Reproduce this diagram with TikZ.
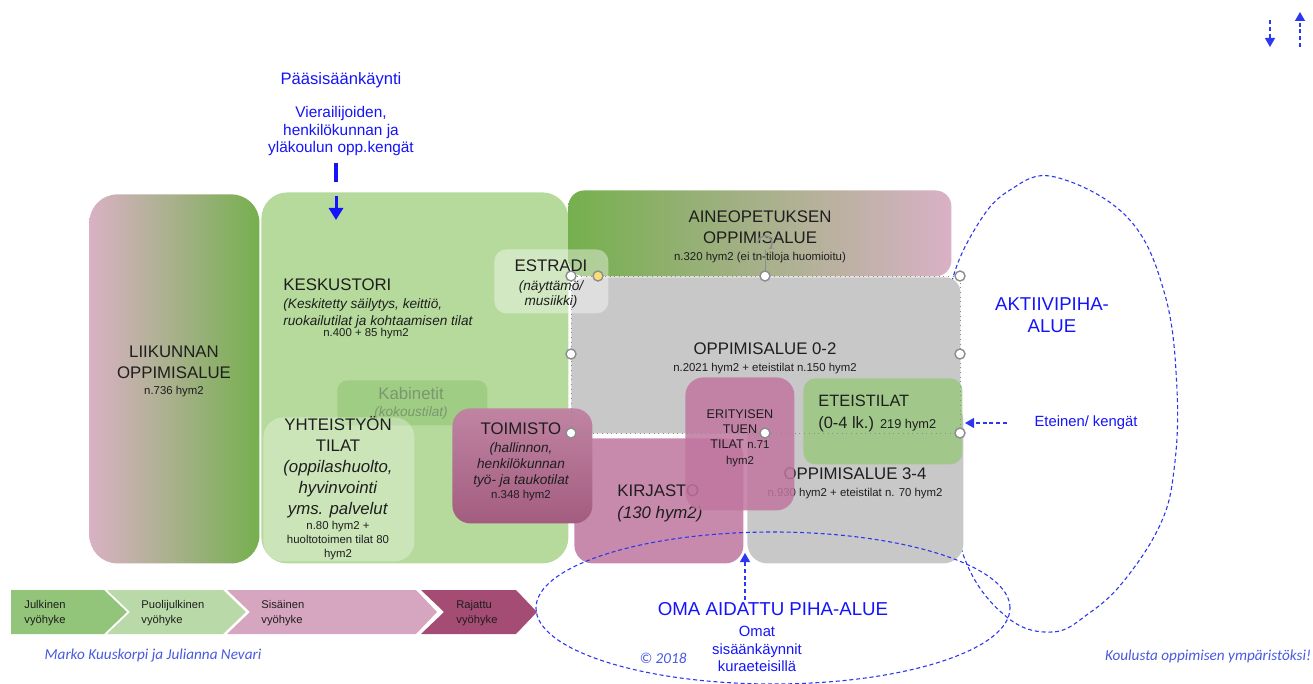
\documentclass[tikz,border=0pt]{standalone}
\usepackage{fontspec}
\setmainfont{Liberation Sans}
\newfontfamily\credfont{Carlito}
\usetikzlibrary{arrows.meta}

\definecolor{gpink}{RGB}{217,177,197}
\definecolor{ggreen}{RGB}{117,176,78}
\definecolor{kgreen}{RGB}{181,218,156}
\definecolor{kabgreen}{RGB}{160,205,132}
\definecolor{kabtext}{RGB}{120,152,110}
\definecolor{zgray}{RGB}{200,200,200}
\definecolor{kirpink}{RGB}{200,138,172}
\definecolor{toitop}{RGB}{192,132,163}
\definecolor{toibot}{RGB}{163,92,127}
\definecolor{eripink}{RGB}{192,118,160}
\definecolor{etgreen}{RGB}{155,200,128}
\definecolor{ink}{RGB}{30,30,30}
\definecolor{pblue}{RGB}{20,20,250}
\definecolor{dblue}{RGB}{45,55,240}
\definecolor{credblue}{RGB}{70,90,225}
\definecolor{chevA}{RGB}{146,196,122}
\definecolor{chevB}{RGB}{185,218,168}
\definecolor{chevC}{RGB}{214,165,192}
\definecolor{chevD}{RGB}{165,76,117}
\definecolor{hgray}{RGB}{140,140,140}
\definecolor{hyellow}{RGB}{250,222,120}

\newcommand{\headf}{\fontsize{8.4}{10.5}\selectfont}
\newcommand{\area}[1]{{\fontsize{5.7}{7}\selectfont #1}}
\newcommand{\descr}[1]{{\fontsize{6.8}{8.5}\selectfont\itshape #1}}

\tikzset{
  zone/.style={inner sep=0pt, anchor=north west},
  txt/.style={inner sep=0pt, align=center, text=ink, font=\headf},
  bluetxt/.style={inner sep=0pt, align=center, text=pblue},
  credit/.style={inner sep=0pt, text=credblue, font=\credfont\itshape\fontsize{7.6}{9}\selectfont},
  chevtxt/.style={inner sep=0pt, align=left, anchor=north west, text=ink, font=\fontsize{5.6}{7.5}\selectfont},
  dashblue/.style={dblue, line width=0.55pt, dash pattern=on 2pt off 1.4pt},
  handle/.style={circle, draw=hgray, fill=white, line width=0.7pt, minimum size=5pt, inner sep=0pt},
}

\begin{document}
\begin{tikzpicture}[x=0.5pt, y=-0.5pt]
  \useasboundingbox (0,0) rectangle (1313,684);

  % aktiivipiha behind the building
  \draw[dashblue] plot[smooth cycle, tension=0.65] coordinates {(1055,177) (1128,218) (1165,295) (1177,390) (1174,470) (1160,525) (1123,582) (1088,614) (1053,632) (1008,618) (966,562) (948,470) (946,360) (951,285) (978,224) (1010,190)};

  \node[zone, rounded corners=14pt, left color=gpink, right color=ggreen,
    minimum width=85pt, minimum height=184.5pt]
    (Lbox) at (89,194) {};
  \node[txt, anchor=north]
    (Ltxt) at (174,346)
    {LIIKUNNAN\\OPPIMISALUE\\[-2.5pt]\area{n.736 hym2}};

  \node[zone, rounded corners=13pt, fill=kgreen,
    minimum width=153.5pt, minimum height=185.5pt]
    (Kbox) at (261,192) {};
  \node[txt, anchor=north west, align=left]
    (Ktxt) at (283,278)
    {KESKUSTORI\\[-1.5pt]
    \descr{(Keskitetty säilytys, keittiö,}\\[-2pt]
    \descr{ruokailutilat ja kohtaamisen tilat}};
  \node[txt] (Karea) at (366,334) {\area{n.400 + 85 hym2}};

  \node[zone, rounded corners=8pt, left color=ggreen, right color=gpink,
    minimum width=191.5pt, minimum height=43pt]
    (Abox) at (568,190) {};
  \node[txt, anchor=north]
    (Atxt) at (760,210)
    {AINEOPETUKSEN\\OPPIMISALUE\\[-2pt]\area{n.320 hym2 (ei tn-tiloja huomioitu)}};

  \node[zone, rounded corners=5pt, fill=kabgreen,
    minimum width=75pt, minimum height=22.5pt]
    (KBbox) at (337,380) {};
  \node[txt, text=kabtext]
    (KBtxt) at (411,403)
    {Kabinetit\\[-2pt]\descr{(kokoustilat)}};

  \node[zone, rounded corners=10pt, fill=white, fill opacity=0.3,
    minimum width=75.5pt, minimum height=72pt]
    (Ybox) at (263,417) {};
  \node[txt, anchor=north]
    (Ytxt) at (338,416)
    {YHTEISTYÖN\\TILAT\\\textit{(oppilashuolto,}\\\textit{hyvinvointi}\\\textit{yms. palvelut}\\[-3pt]
    \area{n.80 hym2 +}\\[-3.5pt]\area{huoltotoimen tilat 80}\\[-3.5pt]\area{hym2}};

  \node[zone, rounded corners=10pt, fill=zgray,
    minimum width=108pt, minimum height=81.5pt]
    (G34box) at (747,400) {};
  \node[txt, anchor=north]
    (G34txt) at (855,467)
    {OPPIMISALUE 3-4\\[-2pt]\area{n.930 hym2 + eteistilat n. 70 hym2}};

  \node[zone, rounded corners=7.5pt, fill=zgray,
    minimum width=194.5pt, minimum height=78pt]
    (G02box) at (571,277) {};
  \node[txt, anchor=north]
    (G02txt) at (765,342)
    {OPPIMISALUE 0-2\\[-2pt]\area{n.2021 hym2 + eteistilat n.150 hym2}};

  \node[zone, rounded corners=9pt, fill=kirpink,
    minimum width=84.5pt, minimum height=62.5pt]
    (Kibox) at (574,438) {};
  \node[txt, anchor=north west, align=left]
    (Kitxt) at (617,484)
    {KIRJASTO\\[0.5pt]\textit{(130 hym2)}};

  \node[zone, rounded corners=6pt, fill=white, fill opacity=0.4,
    minimum width=57pt, minimum height=32pt]
    (Ebox) at (494,249) {};
  \node[txt, anchor=north]
    (Etxt) at (551,259)
    {ESTRADI\\[-1pt]\descr{(näyttämö/}\\[-3pt]\descr{musiikki)}};

  \node[zone, rounded corners=9pt, top color=toitop, bottom color=toibot,
    minimum width=70pt, minimum height=57.5pt]
    (Tbox) at (452,408) {};
  \node[txt, anchor=north]
    (Ttxt) at (521,422)
    {TOIMISTO\\[-1.5pt]\descr{(hallinnon,}\\[-2.5pt]\descr{henkilökunnan}\\[-2.5pt]
    \descr{työ- ja taukotilat}\\[-3.5pt]\area{n.348 hym2}};

  \node[zone, rounded corners=9pt, fill=eripink, fill opacity=0.85,
    minimum width=54.5pt, minimum height=66.5pt]
    (ETbox) at (685,377) {};
  \node[txt, anchor=north, font=\fontsize{6.3}{7.7}\selectfont]
    (ETtxt) at (740,409)
    {ERITYISEN\\TUEN\\TILAT \area{n.71}\\\area{hym2}};

  \node[zone, rounded corners=6pt, fill=etgreen, fill opacity=0.85,
    minimum width=79.5pt, minimum height=43pt]
    (EEbox) at (803,378) {};
  \node[txt, anchor=north west, align=left, font=\fontsize{8.2}{11}\selectfont]
    (EEtxt) at (818,395)
    {ETEISTILAT\\(0-4 lk.) {\fontsize{6.4}{7}\selectfont 219 hym2}};

  % oma piha on top
  \draw[dashblue] (773,608) ellipse [x radius=118.5pt, y radius=38pt];

  % zones along the bottom
  \fill[chevA] (11,590) -- (104,590) -- (127,612) -- (104,634) -- (11,634) -- cycle;
  \fill[chevB] (107,590) -- (223,590) -- (246,612) -- (223,634) -- (107,634) -- (130,612) -- cycle;
  \fill[chevC] (227,590) -- (416,590) -- (437,612) -- (416,634) -- (227,634) -- (250,612) -- cycle;
  \fill[chevD] (421,590) -- (516,590) -- (537,612) -- (516,634) -- (421,634) -- (444,612) -- cycle;
  \node[chevtxt] (zJ) at (24,600) {Julkinen\\vyöhyke};
  \node[chevtxt] (zP) at (141,600) {Puolijulkinen\\vyöhyke};
  \node[chevtxt] (zS) at (261,600) {Sisäinen\\vyöhyke};
  \node[chevtxt] (zR) at (456,600) {Rajattu\\vyöhyke};

  % entrances
  \node[bluetxt, font=\fontsize{8.3}{10}\selectfont] (main) at (341,80) {Pääsisäänkäynti};
  \node[bluetxt, anchor=north, font=\fontsize{7.7}{8.75}\selectfont]
    (mainsub) at (341,106)
    {Vierailijoiden,\\henkilökunnan ja\\yläkoulun opp.kengät};
  \coordinate (barTop) at (336,163);
  \coordinate (barBot) at (336,182);
  \coordinate (arrTop) at (336,196);
  \coordinate (arrTip) at (336,220);
  \draw[pblue, line width=1.7pt] (barTop) -- (barBot);
  \draw[pblue, line width=1.5pt, -{Triangle[width=7pt, length=6pt]}] (arrTop) -- (arrTip);

  \node[bluetxt, anchor=north, font=\fontsize{9.3}{11}\selectfont]
    (akt) at (1052,297) {AKTIIVIPIHA-\\ALUE};
  \node[bluetxt, font=\fontsize{7.4}{9}\selectfont] (etein) at (1086,423) {Eteinen/ kengät};
  \coordinate (eteTail) at (1007,423);
  \coordinate (eteTip) at (965,423);
  \draw[dashblue, -{Triangle[width=5pt, length=4.5pt]}] (eteTail) -- (eteTip);

  \node[bluetxt, font=\fontsize{9.35}{11}\selectfont] (oma) at (773,609) {OMA AIDATTU PIHA-ALUE};
  \node[bluetxt, anchor=north, font=\fontsize{7.4}{8.75}\selectfont]
    (omat) at (757,626) {Omat\\sisäänkäynnit\\kuraeteisillä};
  \coordinate (kirTail) at (745,600);
  \coordinate (kirDoor) at (745,553);
  \draw[dashblue, -{Triangle[width=5pt, length=4.5pt]}] (kirTail) -- (kirDoor);

  % legend arrows
  \coordinate (outA) at (1270,20);
  \coordinate (outB) at (1270,47);
  \coordinate (inA) at (1300,47);
  \coordinate (inB) at (1300,12);
  \draw[dashblue, -{Triangle[width=5pt, length=4.5pt]}] (outA) -- (outB);
  \draw[dashblue, -{Triangle[width=5pt, length=4.5pt]}] (inA) -- (inB);

  % credits
  \node[credit] (auth) at (153,656) {Marko Kuuskorpi ja Julianna Nevari};
  \node[credit] (copy) at (663,658) {© 2018};
  \node[credit] (motto) at (1208,656) {Koulusta oppimisen ympäristöksi!};

  % selection frame
  \draw[hgray, line width=0.35pt, dotted] (571,276) rectangle (960,433);
  \coordinate (rot) at (765,243);
  \draw[hgray, line width=0.5pt] (765,250) -- (765,276);
  \draw[hgray, line width=0.8pt, -{Stealth[length=2.5pt]}] (rot) ++(-3.5pt,0) arc[start angle=180, end angle=-60, radius=3.5pt];
  \foreach \hx/\hy in {571/276, 765/276, 960/276, 571/354, 960/354, 571/433, 765/433, 960/433}
    \node[handle] (hd\hx-\hy) at (\hx,\hy) {};
  \node[handle, fill=hyellow] (hdy) at (598,276) {};
\end{tikzpicture}
\end{document}
